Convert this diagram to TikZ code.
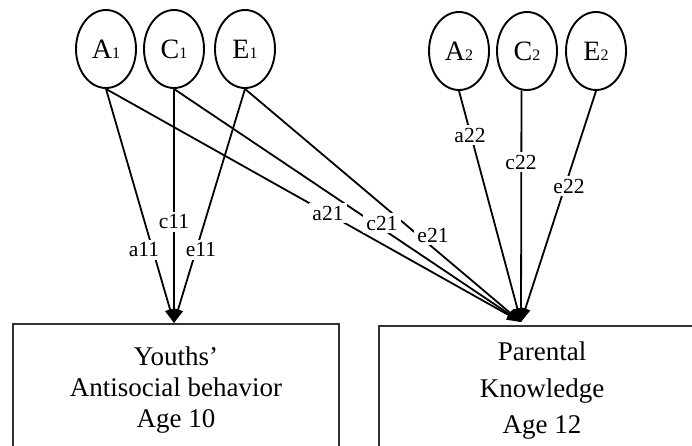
\documentclass[tikz,border=0pt]{standalone}
\usepackage{fontspec}
\setmainfont{Liberation Serif}
\usetikzlibrary{arrows.meta,shapes.geometric}
\newcommand{\latvar}[2]{{\fontsize{28}{28}\selectfont #1}{\fontsize{16}{16}\selectfont #2}}
\begin{document}
\begin{tikzpicture}[x=1pt,y=-1pt,
  lat/.style={ellipse, draw, line width=1.9pt, minimum width=60pt, minimum height=78pt, inner sep=0pt, fill=white},
  conn/.style={line width=1.8pt, -{Triangle[length=14pt,width=10pt]}},
  lab/.style={fill=white, inner sep=3pt, font=\fontsize{21.5}{21.5}\selectfont},
  box/.style={draw=black!80, line width=1.7pt, rectangle, anchor=north west, inner sep=0pt, outer sep=0pt},
  txt/.style={anchor=base, font=\fontsize{27}{27}\selectfont, inner sep=0pt}]
\path[use as bounding box] (0,0) rectangle (692,445);
\clip (0,0) rectangle (692,445);

% boxes
\node[box, minimum width=326pt, minimum height=150pt] (Y) at (13,324) {};
\node[box, minimum width=330pt, minimum height=150pt] (P) at (379,326) {};
\node[txt] (y1) at (176,365) {Youths’};
\node[txt] (y2) at (176,396) {Antisocial behavior};
\node[txt] (y3) at (176,427) {Age 10};
\node[txt] (p1) at (542,360) {Parental};
\node[txt] (p2) at (542,397) {Knowledge};
\node[txt] (p3) at (542,433) {Age 12};

% latent variables
\node[lat] (A1) at (106,49) {\latvar{A}{1}};
\node[lat] (C1) at (174,49) {\latvar{C}{1}};
\node[lat] (E1) at (245,49) {\latvar{E}{1}};
\node[lat] (A2) at (459,51) {\latvar{A}{2}};
\node[lat] (C2) at (527,51) {\latvar{C}{2}};
\node[lat] (E2) at (596,51) {\latvar{E}{2}};

\coordinate (tY) at (174,323);
\coordinate (tP) at (521,322);

% paths
\draw[conn] (A1.south) -- (tY);
\draw[conn] (C1.south) -- (tY);
\draw[conn] (E1.south) -- (tY);
\draw[conn] (A1.south) -- (tP);
\draw[conn] (C1.south) -- (tP);
\draw[conn] (E1.south) -- (tP);
\draw[conn] (A2.south) -- (tP);
\draw[conn] (C2.262) -- (tP);
\draw[conn] (E2.south) -- (tP);

% labels
\node[lab] (la11) at (144,250) {a11};
\node[lab] (lc11) at (174,222) {c11};
\node[lab] (le11) at (201,250) {e11};
\node[lab] (la21) at (328,213) {a21};
\node[lab] (lc21) at (382,223) {c21};
\node[lab] (le21) at (433,235) {e21};
\node[lab] (la22) at (470,135) {a22};
\node[lab] (lc22) at (521,162) {c22};
\node[lab] (le22) at (569,186) {e22};
\end{tikzpicture}
\end{document}
